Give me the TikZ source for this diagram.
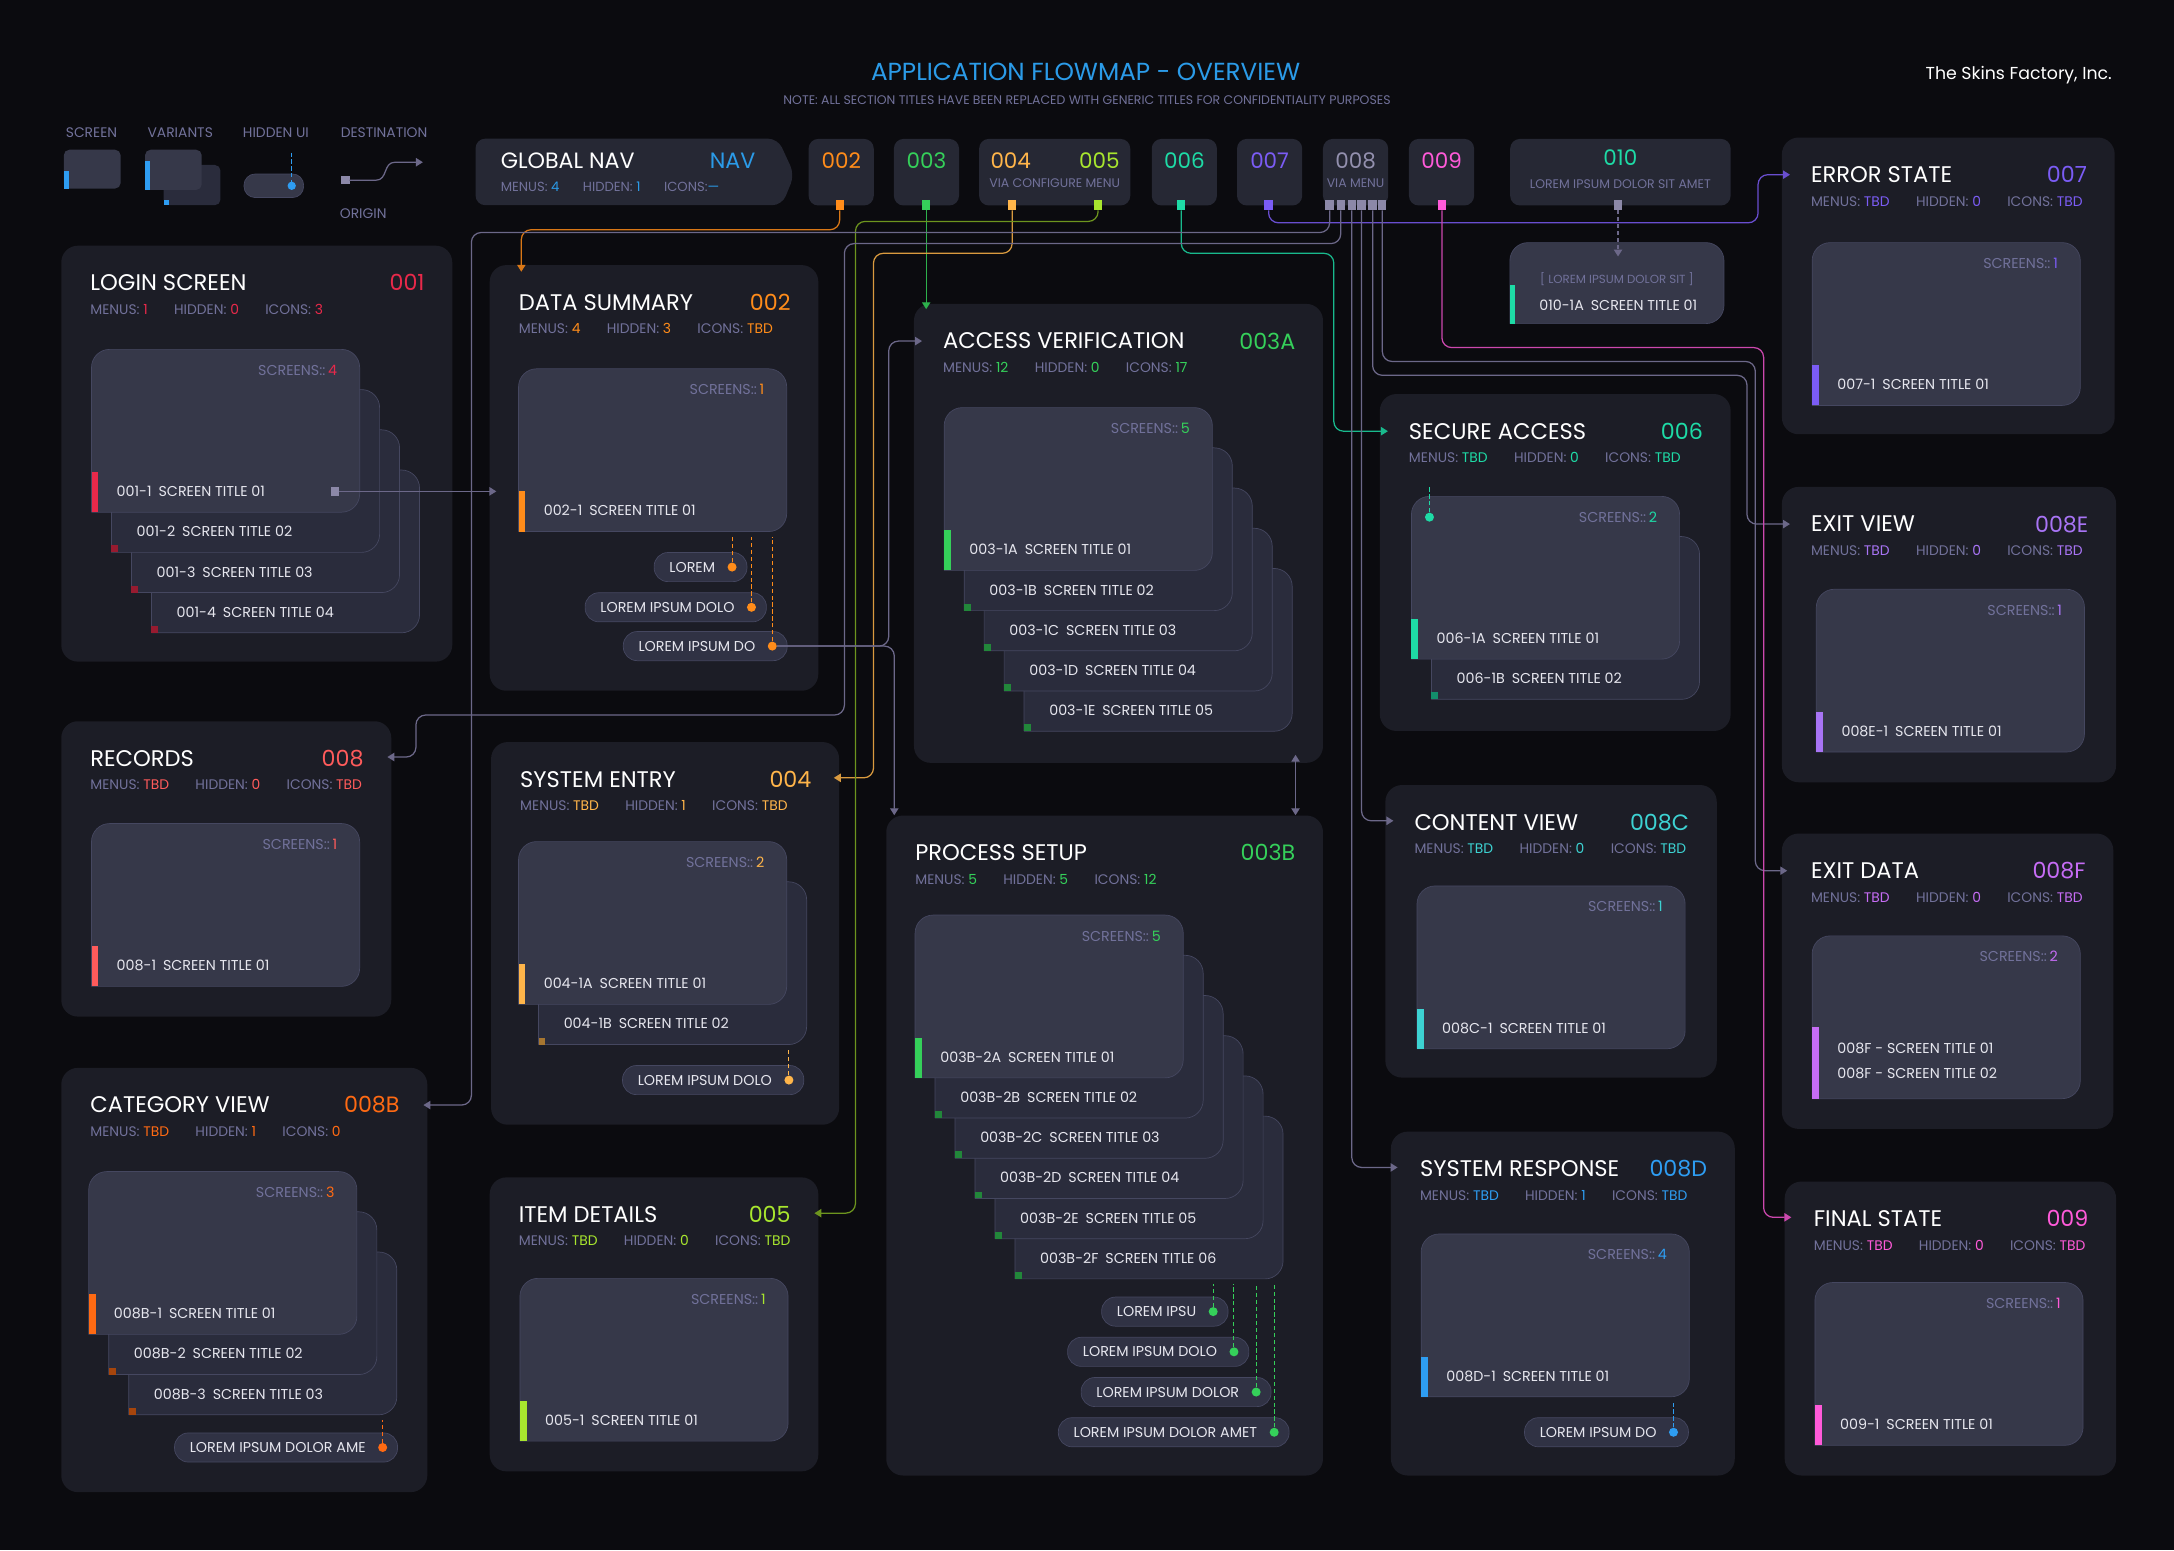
\documentclass[tikz,border=0pt]{standalone}
\usepackage{fontspec}
\setmainfont{Poppins}
\usepackage{tikz}
\usetikzlibrary{arrows.meta}
\usetikzlibrary{calc}
\usetikzlibrary{positioning}

\definecolor{bgc}{HTML}{0B0B0F}
\definecolor{panelc}{HTML}{1C1D26}
\definecolor{navc}{HTML}{262834}
\definecolor{cardc}{HTML}{363849}
\definecolor{backc}{HTML}{2A2C3C}
\definecolor{edgec}{HTML}{454760}
\definecolor{pillc}{HTML}{303244}
\definecolor{linkc}{HTML}{6C6889}
\definecolor{portc}{HTML}{8C88A8}
\definecolor{graytxt}{HTML}{71719A}
\definecolor{lbltxt}{HTML}{E6E6EE}
\definecolor{titlec}{HTML}{2B9BE8}
\definecolor{redc}{HTML}{E8294A}
\definecolor{orangec}{HTML}{FF8C1A}
\definecolor{greenc}{HTML}{35D05A}
\definecolor{yellowc}{HTML}{FFB54A}
\definecolor{limec}{HTML}{A8E62E}
\definecolor{tealc}{HTML}{1EDBA6}
\definecolor{purplec}{HTML}{7B5CF5}
\definecolor{grayid}{HTML}{9390AE}
\definecolor{pinkc}{HTML}{FF5AD9}
\definecolor{coralc}{HTML}{FF5B5B}
\definecolor{flamec}{HTML}{FF6A13}
\definecolor{cyanc}{HTML}{3DD2D2}
\definecolor{bluec}{HTML}{2E9DF2}
\definecolor{violetc}{HTML}{A874F5}
\definecolor{mauvec}{HTML}{C66CF5}

\newcommand{\fsz}[1]{\fontsize{#1}{#1}\selectfont}

\tikzset{> = {Triangle[length=5pt, width=6pt]},
  panel/.style = {fill=panelc, rounded corners=12pt, anchor=north west, inner sep=0pt},
  navbox/.style = {fill=navc, rounded corners=7pt, anchor=north west, inner sep=0pt, minimum height=48pt},
  navnum/.style = {font=\fsz{15.5}, inner sep=0pt},
  navsub/.style = {font=\fsz{9}, text=graytxt, inner sep=0pt},
  ttl/.style = {text=white, font=\fsz{16.3}, anchor=west, inner sep=0pt},
  sid/.style = {font=\fsz{16}, anchor=east, inner sep=0pt},
  stat/.style = {text=graytxt, font=\fsz{10}, anchor=west, inner sep=0pt},
  cardbox/.style = {anchor=north west, minimum width=193pt, minimum height=117pt, inner sep=0pt},
  cnt/.style = {text=graytxt, font=\fsz{10.3}, anchor=east, inner sep=0pt},
  cardlbl/.style = {text=lbltxt, font=\fsz{10.3}, anchor=west, inner sep=0pt},
  pillbox/.style = {anchor=east, fill=pillc, draw=edgec, line width=.5pt, rounded corners=10pt,
    minimum height=21pt, inner sep=0pt, text=lbltxt, font=\fsz{10.3}},
  dot/.style = {circle, inner sep=0pt, minimum size=6.5pt},
  port/.style = {inner sep=0pt, minimum width=6pt, minimum height=7pt},
  link/.style = {draw=linkc, line width=.9pt, rounded corners=7pt, ->},
  hid/.style = {dash pattern=on 3pt off 2pt, line width=.7pt},
  leg/.style = {text=graytxt, font=\fsz{10}, inner sep=0pt}}

% section panel: name, x, y, width, height, colour, title, id
\newcommand{\sect}[8]{%
  \node[panel, minimum width=#4pt, minimum height=#5pt] (#1) at (#2,#3) {};
  \node[ttl] (#1-ttl) at ($(#1.north west)+(21,27)$) {#7};
  \node[sid, text=#6] (#1-id) at ($(#1.north east)+(-20,27)$) {#8};
}
\newcommand{\stats}[5]{%
  \node[stat] (#1-st) at ($(#1.north west)+(21,46)$)
    {MENUS: \textcolor{#2}{#3}\hspace{19pt}HIDDEN: \textcolor{#2}{#4}\hspace{19pt}ICONS: \textcolor{#2}{#5}};
}
% screen cards
\newcommand{\screencard}[4]{%
  \node[cardbox] (#1) at ({#2},{#3}) {};
  \path[fill=#4, draw=edgec, line width=.5pt, rounded corners=13pt]
    (#1.south west) -- (#1.north west) -- (#1.north east) -- (#1.south east) -- (#1.south west);
}
\newcommand{\frontcard}[6]{%
  \screencard{#1}{#2}{#3}{cardc}
  \fill[#4] (#1.south west) rectangle ++(5pt,29pt);
  \node[cnt] (#1-n) at ($(#1.north east)+(-16,15)$) {SCREENS::\hspace{2pt}\textcolor{#4}{#5}};
  \node[cardlbl] (#1-lb) at ($(#1.south west)+(18,-15)$) {#6};
}
\newcommand{\backcard}[5]{%
  \screencard{#1}{#2}{#3}{backc}
  \fill[#4!65!black] (#1.south west) rectangle ++(5pt,5pt);
  \node[cardlbl] (#1-lb) at ($(#1.south west)+(18,-15)$) {#5};
}
\newcommand{\pill}[5]{%
  \node[pillbox] (#1) at (#2,#3) {\hspace*{11pt}#5\hspace*{23pt}};
  \node[dot, fill=#4] (#1-d) at ($(#1.east)+(-11,0)$) {};
}

\begin{document}
\begin{tikzpicture}[x=1pt, y=-1pt]
  \fill[bgc] (0,0) rectangle (1568,1118);
  \useasboundingbox (0,0) rectangle (1568,1118);

  % heading
  \node[text=titlec, font=\fsz{17.8}] (head) at (783,52) {APPLICATION FLOWMAP - OVERVIEW};
  \node[text=graytxt, font=\fsz{9}] (note) at (784,72)
    {NOTE: ALL SECTION TITLES HAVE BEEN REPLACED WITH GENERIC TITLES FOR CONFIDENTIALITY PURPOSES};
  \node[text=white, font=\fsz{12.5}] (firm) at (1456,54) {The Skins Factory, Inc.};

  % legend
  \node[leg] (lg-a) at (66,96) {SCREEN};
  \node[leg] (lg-b) at (130,96) {VARIANTS};
  \node[leg] (lg-c) at (199,96) {HIDDEN UI};
  \node[leg] (lg-d) at (277,96) {DESTINATION};
  \node[leg] (lg-e) at (262,154) {ORIGIN};
  \fill[cardc, rounded corners=4pt] (46,108) rectangle (87,136);
  \fill[bluec] (46,123) rectangle (49.5,136);
  \fill[backc, rounded corners=4pt] (118,119) rectangle (159,148);
  \fill[bluec] (118,144) rectangle (122,148);
  \fill[cardc, rounded corners=4pt] (104.6,108) rectangle (145.5,137);
  \fill[bluec] (104.6,116) rectangle (108,137);
  \path[fill=cardc, draw=edgec, line width=.5pt, rounded corners=8pt] (176,125.5) rectangle (219,142.5);
  \draw[hid, draw=bluec] (210.4,110) -- (210.4,134);
  \fill[bluec] (210.4,134) circle (3pt);
  \fill[portc] (246,127) rectangle (252.4,133);
  \draw[linkc, line width=.9pt, ->] (252,130) -- (271,130) .. controls (280,130) and (276,117) .. (285,117) -- (305,117);

  % global nav
  \fill[navc, rounded corners=7pt] (343,100) -- (561,100) -- (573,126) -- (564,148) -- (343,148) -- cycle;
  \node[anchor=west, text=white, font=\fsz{16}, inner sep=0pt] (gnav) at (361,116) {GLOBAL NAV};
  \node[anchor=east, text=titlec, font=\fsz{16}, inner sep=0pt] (gnav-id) at (545,116) {NAV};
  \node[stat, font=\fsz{9.5}] (gnav-st) at (361,135)
    {MENUS: \textcolor{titlec}{4}\hspace{17pt}HIDDEN: \textcolor{titlec}{1}\hspace{17pt}ICONS:\textcolor{titlec}{—}};

  \node[navbox, minimum width=47pt] (n002) at (583,100) {};
  \node[navnum, text=orangec] (t002) at ($(n002.north)+(0,16)$) {002};
  \node[navbox, minimum width=47pt] (n003) at (644.5,100) {};
  \node[navnum, text=greenc] (t003) at ($(n003.north)+(0,16)$) {003};
  \node[navbox, minimum width=109pt] (n045) at (706,100) {};
  \node[navnum, text=yellowc] (t004) at (729,116) {004};
  \node[navnum, text=limec] (t005) at (793,116) {005};
  \node[navsub] (s045) at ($(n045.north)+(0,32)$) {VIA CONFIGURE MENU};
  \node[navbox, minimum width=47pt] (n006) at (830.5,100) {};
  \node[navnum, text=tealc] (t006) at ($(n006.north)+(0,16)$) {006};
  \node[navbox, minimum width=47pt] (n007) at (892,100) {};
  \node[navnum, text=purplec] (t007) at ($(n007.north)+(0,16)$) {007};
  \node[navbox, minimum width=47pt] (n008) at (954,100) {};
  \node[navnum, text=grayid] (t008) at ($(n008.north)+(0,16)$) {008};
  \node[navsub] (s008) at ($(n008.north)+(0,32)$) {VIA MENU};
  \node[navbox, minimum width=159pt] (n010) at (1089,100) {};
  \node[navnum, text=tealc] (t010) at ($(n010.north)+(0,14)$) {010};
  \node[navsub] (s010) at ($(n010.north)+(0,33)$) {LOREM IPSUM DOLOR SIT AMET};
  \node[navbox, minimum width=47pt] (n009) at (1016,100) {};
  \node[navnum, text=pinkc] (t009) at ($(n009.north)+(0,16)$) {009};

  % ports
  \node[port, fill=orangec] (p002) at (605.6,148) {};
  \node[port, fill=greenc] (p003) at (668,148) {};
  \node[port, fill=yellowc] (p004) at (730,148) {};
  \node[port, fill=limec] (p005) at (792,148) {};
  \node[port, fill=tealc] (p006) at (852,148) {};
  \node[port, fill=purplec] (p007) at (915,148) {};
  \foreach \n/\x in {a/959,b/967,c/975,d/982,e/990,f/997}
    \node[port, fill=portc] (p8\n) at (\x,148) {};
  \node[port, fill=pinkc] (p009) at (1040,148) {};
  \node[port, fill=portc] (p010) at (1167,148) {};

  % sections
  \sect{login}{44}{177}{282}{300}{redc}{LOGIN SCREEN}{001}
  \stats{login}{redc}{1}{0}{3}
  \sect{dsum}{353}{191}{237}{307}{orangec}{DATA SUMMARY}{002}
  \stats{dsum}{orangec}{4}{3}{TBD}
  \sect{acc}{659}{219}{295}{331}{greenc}{ACCESS VERIFICATION}{003A}
  \stats{acc}{greenc}{12}{0}{17}
  \sect{sec}{995}{284}{253}{243}{tealc}{SECURE ACCESS}{006}
  \stats{sec}{tealc}{TBD}{0}{TBD}
  \sect{err}{1285}{99}{240}{214}{purplec}{ERROR STATE}{007}
  \stats{err}{purplec}{TBD}{0}{TBD}
  \sect{exv}{1285}{351}{241}{213}{violetc}{EXIT VIEW}{008E}
  \stats{exv}{violetc}{TBD}{0}{TBD}
  \sect{exd}{1285}{601}{239}{213}{mauvec}{EXIT DATA}{008F}
  \stats{exd}{mauvec}{TBD}{0}{TBD}
  \sect{fin}{1287}{852}{239}{212}{pinkc}{FINAL STATE}{009}
  \stats{fin}{pinkc}{TBD}{0}{TBD}
  \sect{cont}{999}{566}{239}{211}{cyanc}{CONTENT VIEW}{008C}
  \stats{cont}{cyanc}{TBD}{0}{TBD}
  \sect{sresp}{1003}{816}{248}{248}{bluec}{SYSTEM RESPONSE}{008D}
  \stats{sresp}{bluec}{TBD}{1}{TBD}
  \sect{proc}{639}{588}{315}{476}{greenc}{PROCESS SETUP}{003B}
  \stats{proc}{greenc}{5}{5}{12}
  \sect{rec}{44}{520}{238}{213}{coralc}{RECORDS}{008}
  \stats{rec}{coralc}{TBD}{0}{TBD}
  \sect{sent}{354}{535}{251}{276}{yellowc}{SYSTEM ENTRY}{004}
  \stats{sent}{yellowc}{TBD}{1}{TBD}
  \sect{cat}{44}{770}{264}{306}{flamec}{CATEGORY VIEW}{008B}
  \stats{cat}{flamec}{TBD}{1}{0}
  \sect{item}{353}{849}{237}{212}{limec}{ITEM DETAILS}{005}
  \stats{item}{limec}{TBD}{0}{TBD}

  % cards
  \foreach \i/\n in {3/4,2/3,1/2}
    {\backcard{lg\n}{66+14.4*\i}{252+29*\i}{redc}{001-\n\hspace{5pt}SCREEN TITLE 0\n}}
  \frontcard{lg1}{66}{252}{redc}{4}{001-1\hspace{5pt}SCREEN TITLE 01}
  \node[port, fill=portc, minimum height=6pt] (lport) at ($(lg1.south east)+(-18,-15)$) {};

  \frontcard{ds1}{374}{266}{orangec}{1}{002-1\hspace{5pt}SCREEN TITLE 01}

  \foreach \i/\l/\n in {4/E/5,3/D/4,2/C/3,1/B/2}
    {\backcard{ac\l}{681+14.4*\i}{294+29*\i}{greenc}{003-1\l\hspace{5pt}SCREEN TITLE 0\n}}
  \frontcard{acA}{681}{294}{greenc}{5}{003-1A\hspace{5pt}SCREEN TITLE 01}

  \foreach \i/\l/\n in {5/F/6,4/E/5,3/D/4,2/C/3,1/B/2}
    {\backcard{pr\l}{660+14.4*\i}{660+29*\i}{greenc}{003B-2\l\hspace{5pt}SCREEN TITLE 0\n}}
  \frontcard{prA}{660}{660}{greenc}{5}{003B-2A\hspace{5pt}SCREEN TITLE 01}

  \backcard{sc2}{1032.4}{387}{tealc}{006-1B\hspace{5pt}SCREEN TITLE 02}
  \frontcard{sc1}{1018}{358}{tealc}{2}{006-1A\hspace{5pt}SCREEN TITLE 01}
  \node[dot, fill=tealc] (sc-h) at ($(sc1.north west)+(13,15)$) {};
  \draw[hid, draw=tealc] (sc-h.north) -- ++(0,-19);

  \backcard{se2}{388.4}{636}{yellowc}{004-1B\hspace{5pt}SCREEN TITLE 02}
  \frontcard{se1}{374}{607}{yellowc}{2}{004-1A\hspace{5pt}SCREEN TITLE 01}

  \foreach \i/\n in {2/3,1/2}
    {\backcard{ct\n}{64+14.4*\i}{845+29*\i}{flamec}{008B-\n\hspace{5pt}SCREEN TITLE 0\n}}
  \frontcard{ct1}{64}{845}{flamec}{3}{008B-1\hspace{5pt}SCREEN TITLE 01}

  \frontcard{er1}{1307}{175}{purplec}{1}{007-1\hspace{5pt}SCREEN TITLE 01}
  \frontcard{ev1}{1310}{425}{violetc}{1}{008E-1\hspace{5pt}SCREEN TITLE 01}
  \frontcard{fs1}{1309}{925}{pinkc}{1}{009-1\hspace{5pt}SCREEN TITLE 01}
  \frontcard{cv1}{1022}{639}{cyanc}{1}{008C-1\hspace{5pt}SCREEN TITLE 01}
  \frontcard{sr1}{1025}{890}{bluec}{4}{008D-1\hspace{5pt}SCREEN TITLE 01}
  \frontcard{rc1}{66}{594}{coralc}{1}{008-1\hspace{5pt}SCREEN TITLE 01}
  \frontcard{id1}{375}{922}{limec}{1}{005-1\hspace{5pt}SCREEN TITLE 01}

  \screencard{xd1}{1307}{675}{cardc}
  \fill[mauvec] (xd1.south west) rectangle ++(5pt,52pt);
  \node[cnt] (xd1-n) at ($(xd1.north east)+(-16,15)$) {SCREENS::\hspace{2pt}\textcolor{mauvec}{2}};
  \node[cardlbl] (xd1-a) at ($(xd1.south west)+(18,-36)$) {008F - SCREEN TITLE 01};
  \node[cardlbl] (xd1-b) at ($(xd1.south west)+(18,-18)$) {008F - SCREEN TITLE 02};

  \node[anchor=north west, minimum width=154pt, minimum height=58pt, inner sep=0pt] (c010) at (1089,175) {};
  \path[fill=cardc, draw=edgec, line width=.5pt, rounded corners=13pt]
    (c010.south west) -- (c010.north west) -- (c010.north east) -- (c010.south east) -- (c010.south west);
  \fill[tealc] (c010.south west) rectangle ++(4pt,28pt);
  \node[navsub, font=\fsz{8.5}] (c010-a) at ($(c010.north)+(0,26)$) {[ LOREM IPSUM DOLOR SIT ]};
  \node[cardlbl, anchor=center] (c010-b) at ($(c010.north)+(1,45)$) {010-1A\hspace{5pt}SCREEN TITLE 01};

  % pills
  \pill{dsp1}{539}{409}{orangec}{LOREM}
  \pill{dsp2}{553}{438}{orangec}{LOREM IPSUM DOLO}
  \pill{dsp3}{568}{466}{orangec}{LOREM IPSUM DO}
  \pill{sep1}{580}{779}{yellowc}{LOREM IPSUM DOLO}
  \pill{ctp1}{287}{1044}{flamec}{LOREM IPSUM DOLOR AME}
  \pill{prp1}{886}{946}{greenc}{LOREM IPSU}
  \pill{prp2}{901}{975}{greenc}{LOREM IPSUM DOLO}
  \pill{prp3}{917}{1004}{greenc}{LOREM IPSUM DOLOR}
  \pill{prp4}{930}{1033}{greenc}{LOREM IPSUM DOLOR AMET}
  \pill{srp1}{1218}{1033}{bluec}{LOREM IPSUM DO}

  % hidden ui
  \foreach \k in {1,2,3}
    \draw[hid, draw=orangec] (dsp\k-d.north) -- ($(dsp\k-d.north |- ds1.south)+(0,4)$);
  \draw[hid, draw=yellowc] (sep1-d.north) -- ($(sep1-d.north |- se2.south)+(0,4)$);
  \draw[hid, draw=flamec] (ctp1-d.north) -- ($(ctp1-d.north |- ct3.south)+(0,4)$);
  \foreach \k in {1,...,4}
    \draw[hid, draw=greenc] (prp\k-d.north) -- ($(prp\k-d.north |- prF.south)+(0,4)$);
  \draw[hid, draw=bluec] (srp1-d.north) -- ($(srp1-d.north |- sr1.south)+(0,4)$);

  % edges
  \draw[link, draw=orangec!85!black] (p002.south) -- ++(0,14) -| ($(dsum.north west)+(23,5)$);
  \draw[link, draw=greenc!85!black] (p003.south) -- ($(p003.south |- acc.north)+(0,4)$);
  \draw[link, draw=yellowc!85!black] (p004.south) -- ++(0,31) -- ++(-100,0) |- ($(sent.north east)+(-4,26)$);
  \draw[link, draw=limec!65!black] (p005.south) -- ++(0,8) -- ++(-175,0) |- ($(item.north east)+(-3,26)$);
  \draw[link, draw=tealc!85!black] (p006.south) -- ++(0,31) -- ++(110,0) |- ($(sec.north west)+(6,27)$);
  \draw[link, draw=purplec!85!black] (p007.south) -- ++(0,9) -- ++(353,0) |- ($(err.north west)+(6,27)$);
  \draw[link] (p8a.south) -- ++(0,16) -- ++(-619,0) |- ($(cat.north east)+(-3,27)$);
  \draw[link] (p8b.south) -- ++(0,24) -- ++(-358,0) -- ++(0,340) -- ++(-309,0) |- ($(rec.north east)+(-3,26)$);
  \draw[link] (p8c.south) |- ($(sresp.north west)+(5,26)$);
  \draw[link] (p8d.south) |- ($(cont.north west)+(6,26)$);
  \draw[link] (p8e.south) -- ++(0,119) -- ++(270,0) |- ($(exv.north west)+(6,27)$);
  \draw[link] (p8f.south) -- ++(0,109) -- ++(269,0) |- ($(exd.north west)+(4,27)$);
  \draw[link, draw=pinkc!80!black] (p009.south) -- ++(0,99) -- ++(232,0) |- ($(fin.north west)+(5,26)$);
  \draw[link, dash pattern=on 3pt off 2pt] (p010.south) -- ($(p010.south |- c010.north)+(0,10)$);
  \draw[link] (lport.east) -- ($(lport -| dsum.west)+(5,0)$);
  \draw[link] (dsp3-d) -- ++(84,0) |- ($(acc.north west)+(6,27)$);
  \draw[link] (dsp3-d) -| ($(proc.north west)+(6,0)$);
  \draw[link, <->] ($(acc.south east)+(-20,-6)$) -- ($(proc.north east)+(-20,0)$);
\end{tikzpicture}
\end{document}
